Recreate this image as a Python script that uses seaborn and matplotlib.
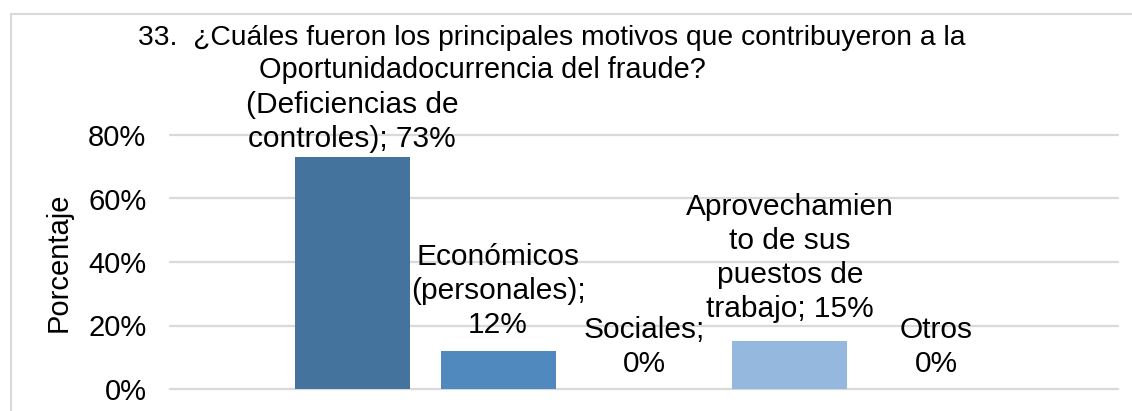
import matplotlib
matplotlib.use("Agg")
import matplotlib.pyplot as plt
from matplotlib.patches import Rectangle
from matplotlib.ticker import PercentFormatter
import pandas as pd
import seaborn as sns

# Survey question 33: main reasons behind the fraud
motivos = [
    "(Deficiencias de controles)",
    "Económicos (personales)",
    "Sociales",
    "Aprovechamiento de sus puestos de trabajo",
    "Otros",
]
porcentajes = [0.73, 0.12, 0.00, 0.15, 0.00]
etiquetas = [
    "(Deficiencias de\ncontroles); {}",
    "Económicos\n(personales);\n{}",
    "Sociales;\n{}",
    "Aprovechamien\nto de sus\npuestos de\ntrabajo; {}",
    "Otros\n{}",
]
colores = ["#44739d", "#4f89bd", "#6fa0d2", "#95b8de", "#b9cde5"]
yticks = [0.0, 0.2, 0.4, 0.6, 0.8]
titulo = [
    "33.  ¿Cuáles fueron los principales motivos que contribuyeron a la",
    "Oportunidadocurrencia del fraude?",
]
ylabel = "Porcentaje"

df = pd.DataFrame({"motivo": motivos, "valor": porcentajes})

sns.set_theme(style="white")
plt.rcParams["font.family"] = ["Liberation Sans", "DejaVu Sans"]
plt.rcParams["text.color"] = "#000000"

W, H = 1132, 411
fig = plt.figure(figsize=(W / 100, H / 100), dpi=100)
fig.patch.set_facecolor("white")

# plot area in pixel units
px_left, px_right, px_top, px_bottom = 170, 1118, 135, 389
ax = fig.add_axes([px_left / W, 1 - px_bottom / H,
                   (px_right - px_left) / W, (px_bottom - px_top) / H])

sns.barplot(data=df, x="motivo", y="valor", hue="motivo", palette=colores,
            saturation=1, width=0.788, linewidth=0, legend=False, ax=ax)

ax.set_xlim(-1.247, 5.247)
ax.set_ylim(0, 0.8)
ax.set_yticks(yticks)
ax.yaxis.set_major_formatter(PercentFormatter(1, decimals=0))
ax.set_xticks([])
ax.set_xlabel("")
ax.set_ylabel(ylabel, fontsize=21, color="#000000")
ax.yaxis.set_label_coords((73 - px_left) / (px_right - px_left), 0.5)
ax.tick_params(axis="y", length=0, pad=17, labelsize=21, labelcolor="#000000")
for s in ax.spines.values():
    s.set_visible(False)
ax.yaxis.grid(True, color="#d9d9d9", linewidth=1.6)
ax.set_axisbelow(True)
for gl in ax.get_ygridlines():
    gl.set_clip_on(False)

# data labels above each bar
label_gap_px = [4.5, 12, 11, 18.5, 11]
for i, (v, fmt) in enumerate(zip(porcentajes, etiquetas)):
    ax.annotate(fmt.format(f"{v * 100:.0f}%"), xy=(i, v),
                xytext=(0, label_gap_px[i] * 0.72), textcoords="offset points",
                ha="center", va="bottom", fontsize=21.5, linespacing=1.27,
                color="#000000", multialignment="center")

# chart title
fig.text(138 / W, 1 - 45 / H, titulo[0], ha="left", va="baseline",
         fontsize=20.3, color="#000000")
fig.text(259 / W, 1 - 78 / H, titulo[1], ha="left", va="baseline",
         fontsize=20.8, color="#000000")

# chart frame
fig.patches.append(Rectangle((10.5 / W, -0.1), 1.2, (H - 14) / H + 0.1,
                             transform=fig.transFigure, fill=False,
                             edgecolor="#d9d9d9", linewidth=1.5))

fig.savefig("out.png", dpi=100)
